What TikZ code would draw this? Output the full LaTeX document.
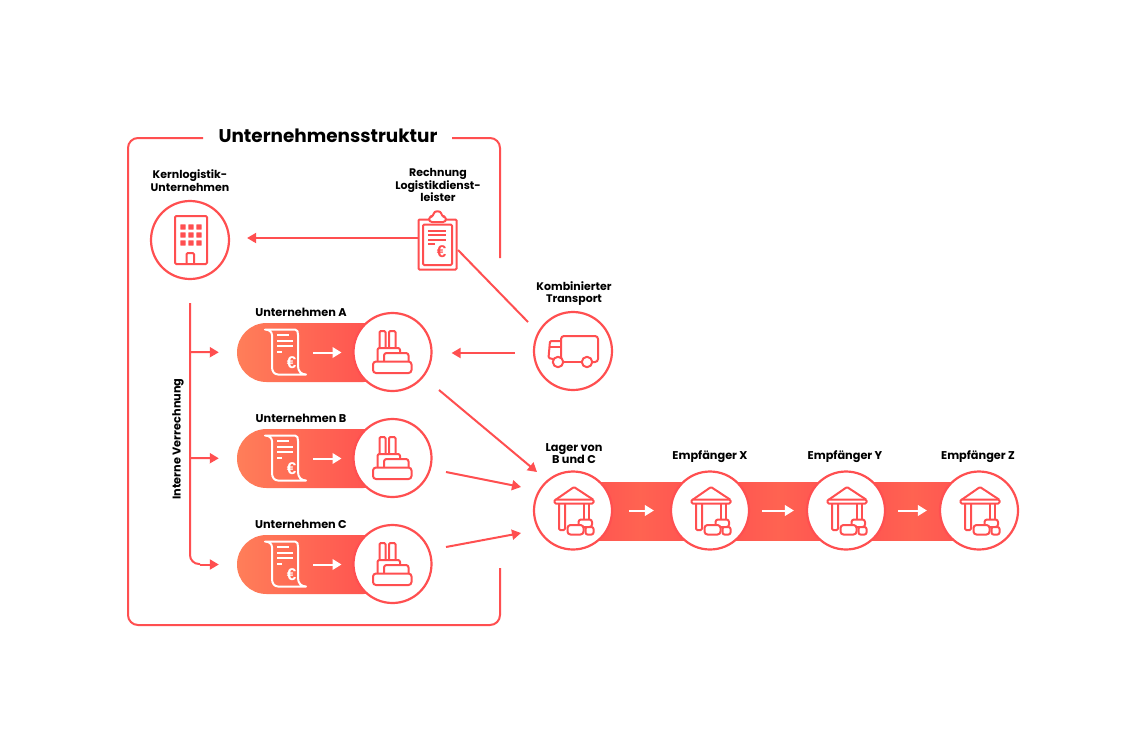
\documentclass[tikz,border=0pt]{standalone}
\usepackage{fontspec}
\setmainfont{Poppins}
\newfontfamily\eurofont{Liberation Sans}
\usetikzlibrary{arrows.meta,shapes.misc}
\definecolor{rd}{HTML}{FF4F50}
\definecolor{pillL}{HTML}{FF7E59}
\definecolor{pillR}{HTML}{FF4C4E}
\definecolor{bandM}{HTML}{FF6351}
\tikzset{
  x=1pt,y=-1pt,
  lbl/.style={font=\bfseries\fontsize{11.3}{12.8}\selectfont,text=black,align=center,inner sep=0pt},
  lbs/.style={font=\bfseries\fontsize{11}{12.6}\selectfont,text=black,align=center,inner sep=0pt},
  ttl/.style={font=\bfseries\fontsize{18.4}{22}\selectfont,text=black,inner sep=0pt},
  ring/.style={circle,draw=rd,line width=2.2pt,fill=white,minimum size=78pt,inner sep=0pt},
  pill/.style={rounded rectangle,minimum width=156pt,minimum height=59pt,inner sep=0pt,left color=pillL,right color=pillR},
  arr/.style={draw=rd,line width=2pt,-{Triangle[width=10pt,length=9pt]}},
  warr/.style={draw=white,line width=2pt,-{Triangle[width=10.5pt,length=9pt]}},
  ln/.style={draw=rd,line width=2pt},
  ic/.style={draw=rd,line width=2pt,rounded corners=1.2pt,line join=round},
  rc/.style={draw=white,line width=2pt,line join=round},
  eur/.style={font=\eurofont\bfseries\fontsize{17}{17}\selectfont,inner sep=0pt},
  factorypic/.pic={
    \draw[ic] (-13,-4) -- (-13,-21) -- (-7,-21) -- (-7,-4);
    \draw[ic] (-3.5,-4) -- (-3.5,-21) -- (3,-21) -- (3,-4);
    \draw[ic,rounded corners=2pt] (-15,9) -- (-15,-4) -- (7.5,-4) -- (7.5,1);
    \draw[ic,rounded corners=2.5pt] (-8.5,9) -- (-8.5,1) -- (16,1) -- (16,9);
    \draw[ic,fill=white,rounded corners=3pt] (-19.5,9.5) rectangle (19,21);
  },
  receiptpic/.pic={
    \draw[rc,line cap=round] (-22,-22.5) -- (8,-22.5) .. controls (10.5,-22.5) and (11,-20) .. (11,-17) -- (11,14) .. controls (11,19) and (14,22.5) .. (19,22.5) -- (-9,22.5) .. controls (-13,22.5) and (-15,19) .. (-15,15) -- (-15,-17) .. controls (-15,-20) and (-18,-22.5) .. (-22,-22.5);
    \draw[rc] (-10,-17) -- (1.5,-17) (-10,-11.5) -- (6,-11.5) (-10,-6) -- (6,-6) (-10,0) -- (-5,0);
    \node[text=white,eur] at (4.5,11) {€};
  },
  truckpic/.pic={
    \draw[ic,rounded corners=3pt] (-10,11) -- (-12,11) -- (-12,-15) -- (25,-15) -- (25,11) -- (19,11);
    \draw[ic] (9,11) -- (-10,11);
    \draw[ic] (-12,-10) -- (-23,-10) -- (-24.5,7) -- (-20,8);
    \draw[ic] (-12,-4) -- (-24,-4);
    \draw[ic,fill=white] (-15,11) circle (5.2);
    \draw[ic,fill=white] (14,11) circle (5.2);
  },
  housepic/.pic={
    \draw[ic] (-17,-11) -- (1,-23.5) -- (20,-11);
    \draw[ic] (-18.5,-11) rectangle (20.5,-7);
    \draw[ic] (-14,-7) -- (-14,19.5) -- (-8,19.5) -- (-8,-7);
    \draw[ic] (11,-7) -- (11,9) (16,-7) -- (16,9);
    \draw[ic,fill=white,rounded corners=2.5pt] (5.5,9) rectangle (19,16.5);
    \draw[ic,fill=white,rounded corners=3pt] (-5.5,14.5) rectangle (10.5,24);
    \draw[ic,fill=white,rounded corners=2pt] (12.5,16.5) rectangle (20.5,24);
  },
}
\begin{document}
\begin{tikzpicture}
\useasboundingbox[fill=white] (0,0) rectangle (1145,753);
% frame
\draw[ln] (203,138) -- (138,138) arc[start angle=-90,end angle=-180,radius=10] -- (128,615) arc[start angle=180,end angle=90,radius=10] -- (490,625) arc[start angle=90,end angle=0,radius=10] -- (500,568);
\draw[ln] (452,138) -- (490,138) arc[start angle=-90,end angle=0,radius=10] -- (500,258);
\node[ttl] (title) at (328,136) {Unternehmensstruktur};
% band
\fill[left color=rd,right color=bandM] (573,482) rectangle (640,540);
\fill[left color=bandM,right color=rd] (640,482) rectangle (710,540);
\fill[left color=rd,right color=bandM] (710,482) rectangle (778,540);
\fill[left color=bandM,right color=rd] (778,482) rectangle (846,540);
\fill[left color=rd,right color=bandM] (846,482) rectangle (912,540);
\fill[left color=bandM,right color=rd] (912,482) rectangle (979,540);
% pills
\node[pill] (pillA) at (315,352.5) {};
\node[pill] (pillB) at (315,458.5) {};
\node[pill] (pillC) at (315,564.5) {};
% circles
\node[ring] (kern) at (190,240) {};
\node[ring] (truck) at (573,351) {};
\node[ring] (compA) at (392.5,352) {};
\node[ring] (compB) at (392.5,458) {};
\node[ring] (compC) at (392.5,564) {};
\node[ring] (lager) at (573,510.5) {};
\node[ring] (empX) at (710,510.5) {};
\node[ring] (empY) at (846,510.5) {};
\node[ring] (empZ) at (979,510.5) {};
% clipboard
\node[draw=rd,line width=2pt,rounded corners=1pt,minimum width=38pt,minimum height=50pt,inner sep=0pt] (invoice) at (437.5,244.5) {};
\draw[ic] (423,224.5) rectangle (452,265);
\draw[ic,fill=white,rounded corners=3pt] (429,222) -- (429,216.5) -- (433.5,216.5) .. controls (434,210.5) and (441,210.5) .. (441.5,216.5) -- (446,216.5) -- (446,222) -- cycle;
\draw[ic] (428,231) -- (446,231) (428,235) -- (446,235) (428,239.5) -- (446,239.5) (428,243.5) -- (435,243.5);
\node[text=rd,eur] (euro) at (441.5,252) {€};
% icons
\draw[ic] (175,216) rectangle (207,264);
\foreach \yy in {227,235,243} \foreach \xx in {183,191,199}
  \fill[rd,rounded corners=.6pt] (\xx-2.7,\yy-2.7) rectangle (\xx+2.7,\yy+2.7);
\draw[ic] (186.5,264) -- (186.5,253) -- (194,253) -- (194,264);
\pic at (573,351) {truckpic};
\pic at (392.5,352) {factorypic};
\pic at (392.5,458) {factorypic};
\pic at (392.5,564) {factorypic};
\pic at (287,352) {receiptpic};
\pic at (287,458) {receiptpic};
\pic at (287,564) {receiptpic};
\pic at (573,510.5) {housepic};
\pic at (710,510.5) {housepic};
\pic at (846,510.5) {housepic};
\pic at (979,510.5) {housepic};
% white arrows
\draw[warr] (pillA.center) ++(-2,0) -- ++(28.5,0);
\draw[warr] (pillB.center) ++(-2,0) -- ++(28.5,0);
\draw[warr] (pillC.center) ++(-2,0) -- ++(28.5,0);
\draw[warr,shorten <=16pt,shorten >=16pt] (lager.east) -- (empX.west);
\draw[warr,shorten <=12pt,shorten >=12pt] (empX.east) -- (empY.west);
\draw[warr,shorten <=12pt,shorten >=12pt] (empY.east) -- (empZ.west);
% connectors
\coordinate (trunkTop) at (190,303);
\coordinate (trunkA) at (190,352);
\coordinate (trunkB) at (190,458);
\coordinate (trunkC) at (190,564);
\draw[ln,rounded corners=9pt] (trunkTop) -- (trunkC) -- (200,564);
\draw[arr,shorten >=18pt] (200,564.5) -- (pillC.west);
\draw[arr,shorten >=18pt] (trunkA) -- (pillA.west);
\draw[arr,shorten >=18pt] (trunkB) -- (pillB.west);
\draw[arr,shorten >=17pt] ([yshift=6.5pt]invoice.west) -- ([yshift=2pt]kern.east);
\coordinate (invOut) at (458,250);
\coordinate (truckIn) at (528,322);
\draw[ln] (invOut) -- (truckIn);
\draw[arr,shorten <=18pt,shorten >=19pt] ([yshift=-2pt]truck.west) -- ([yshift=-1pt]compA.east);
\coordinate (aOut) at (439,390);
\coordinate (bOut) at (446,472);
\coordinate (cOut) at (446,547);
\coordinate (aIn) at (537,472);
\coordinate (bIn) at (521,487);
\coordinate (cIn) at (521,533);
\draw[arr] (aOut) -- (aIn);
\draw[arr] (bOut) -- (bIn);
\draw[arr] (cOut) -- (cIn);
% labels
\node[lbs] (lk) at (190,180.5) {Kernlogistik-\\Unternehmen};
\node[lbs] (lr) at (438,185) {Rechnung\\Logistikdienst-\\leister};
\node[lbs] (lt) at (574,293.5) {Kombinierter\\Transport};
\node[lbl] (la) at (301,312) {Unternehmen A};
\node[lbl] (lb) at (301,418) {Unternehmen B};
\node[lbl] (lc) at (301,524) {Unternehmen C};
\node[lbl] (ll) at (574,453.5) {Lager von\\B und C};
\node[lbl] (lx) at (710,457) {Empfänger X};
\node[lbl] (ly) at (845,457) {Empfänger Y};
\node[lbl] (lz) at (978,457) {Empfänger Z};
\node[lbl,rotate=90] (lv) at (178,439) {Interne Verrechnung};
\end{tikzpicture}
\end{document}
